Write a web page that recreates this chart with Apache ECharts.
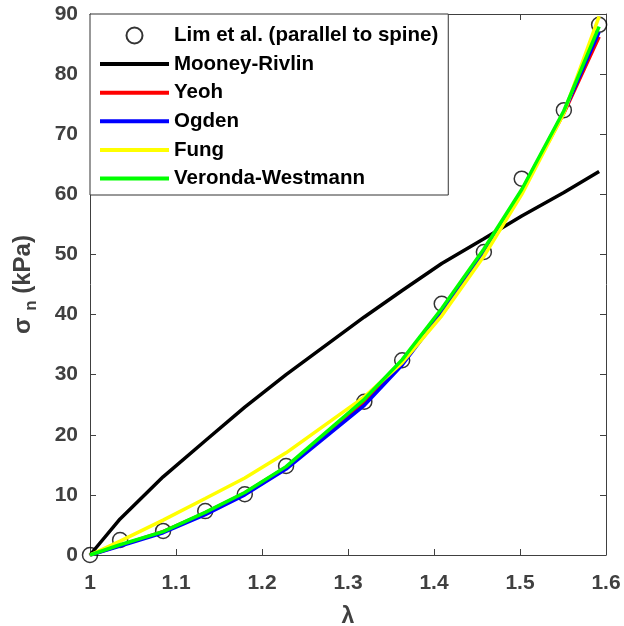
<!DOCTYPE html>
<html>
<head>
<meta charset="utf-8">
<script src="https://cdn.jsdelivr.net/npm/echarts@6/dist/echarts.min.js"></script>
<style>
  html, body { margin: 0; padding: 0; background: #fff; }
  #chart { width: 624px; height: 626px; }
</style>
</head>
<body>
<div id="chart"></div>
<script>
// Stretch ratio values where the measurements and model fits are evaluated
const lambda = [1.000, 1.035, 1.085, 1.134, 1.180, 1.228, 1.319, 1.363, 1.409, 1.458, 1.502, 1.551, 1.592];

// Measured nominal stress (kPa)
const limData = [0, 2.5, 4.0, 7.3, 10.1, 14.8, 25.5, 32.4, 41.8, 50.4, 62.6, 74.0, 88.2];

// Hyperelastic model fits (kPa)
const mooneyRivlin = [0, 6.0, 13.0, 19.0, 24.6, 30.0, 39.6, 44.0, 48.5, 52.6, 56.4, 60.3, 63.8];
const yeoh = [0, 1.6, 3.9, 7.0, 10.3, 14.6, 25.4, 32.0, 40.5, 50.5, 60.5, 73.5, 86.2];
const ogden = [0, 1.5, 3.7, 6.7, 10.0, 14.3, 24.9, 31.6, 40.3, 50.4, 60.6, 73.7, 87.0];
const fung = [0, 2.3, 5.8, 9.4, 12.8, 17.0, 26.3, 32.0, 39.8, 49.7, 60.0, 73.5, 89.6];
const verondaWestmann = [0, 1.7, 3.9, 7.1, 10.4, 14.7, 25.9, 32.5, 41.0, 50.9, 60.8, 73.9, 87.9];

const xTicks = ['1', '1.1', '1.2', '1.3', '1.4', '1.5', '1.6'];

const pairs = ys => lambda.map((x, i) => [x, ys[i]]);

const axisColor = '#404040';
const font = 'Liberation Sans, Arial, sans-serif';

const chart = echarts.init(document.getElementById('chart'), null, { renderer: 'canvas' });

function lineSeries(name, ys, color) {
  return {
    name: name,
    type: 'line',
    data: pairs(ys),
    showSymbol: false,
    symbol: 'none',
    lineStyle: { color: color, width: 3.5 },
    itemStyle: { color: color },
    animation: false
  };
}

// Legend entries for the fitted curves show only a plain line
function lineLegend(name, color) {
  return {
    name: name,
    itemStyle: { opacity: 0 },
    lineStyle: { color: color, width: 4, opacity: 1 }
  };
}

const option = {
  backgroundColor: '#fff',
  animation: false,
  grid: { left: 90, right: 18, top: 14, bottom: 71, outerBoundsMode: 'none' },
  legend: {
    left: 90,
    top: 14,
    orient: 'vertical',
    backgroundColor: '#fff',
    borderColor: '#333',
    borderWidth: 1,
    borderRadius: 0,
    padding: [11, 10, 6, 8],
    itemWidth: 69,
    itemHeight: 16,
    itemGap: 7.6,
    textStyle: { fontFamily: font, fontWeight: 'bold', fontSize: 20.5, color: '#000', padding: [0, 0, 0, 0] },
    data: [
      { name: 'Lim et al. (parallel to spine)' },
      lineLegend('Mooney-Rivlin', '#000000'),
      lineLegend('Yeoh', '#ff0000'),
      lineLegend('Ogden', '#0000ff'),
      lineLegend('Fung', '#ffff00'),
      lineLegend('Veronda-Westmann', '#00ff00')
    ]
  },
  xAxis: [{
    type: 'value',
    min: 1, max: 1.6, interval: 0.1,
    name: 'λ',
    nameLocation: 'middle',
    nameGap: 50,
    nameTextStyle: { fontFamily: font, fontWeight: 'bold', fontSize: 23, color: axisColor },
    axisLine: { show: true, lineStyle: { color: axisColor, width: 1 } },
    axisTick: { show: true, inside: true, length: 6, lineStyle: { color: axisColor } },
    splitLine: { show: false },
    axisLabel: {
      margin: 18,
      fontFamily: font, fontWeight: 'bold', fontSize: 21, color: axisColor,
      formatter: v => xTicks[Math.round((v - 1) * 10)]
    }
  }, {
    type: 'value', position: 'top',
    min: 1, max: 1.6, interval: 0.1,
    axisLine: { show: true, onZero: false, lineStyle: { color: axisColor, width: 1 } },
    axisTick: { show: true, inside: true, length: 6, lineStyle: { color: axisColor } },
    axisLabel: { show: false },
    splitLine: { show: false }
  }],
  yAxis: [{
    type: 'value',
    min: 0, max: 90, interval: 10,
    name: '{a|σ} {b|n} {a|(kPa)}',
    nameLocation: 'middle',
    nameRotate: 90,
    nameGap: 50,
    nameTextStyle: {
      fontFamily: font, fontWeight: 'bold', fontSize: 24, color: axisColor,
      rich: {
        a: { fontFamily: font, fontWeight: 'bold', fontSize: 24, color: axisColor, lineHeight: 34, verticalAlign: 'middle' },
        b: { fontFamily: font, fontWeight: 'bold', fontSize: 17, color: axisColor, lineHeight: 34, verticalAlign: 'bottom' }
      }
    },
    axisLine: { show: true, lineStyle: { color: axisColor, width: 1 } },
    axisTick: { show: true, inside: true, length: 6, lineStyle: { color: axisColor } },
    splitLine: { show: false },
    axisLabel: { margin: 12, fontFamily: font, fontWeight: 'bold', fontSize: 21, color: axisColor }
  }, {
    type: 'value', position: 'right',
    min: 0, max: 90, interval: 10,
    axisLine: { show: true, onZero: false, lineStyle: { color: axisColor, width: 1 } },
    axisTick: { show: true, inside: true, length: 6, lineStyle: { color: axisColor } },
    axisLabel: { show: false },
    splitLine: { show: false }
  }],
  series: [
    {
      name: 'Lim et al. (parallel to spine)',
      type: 'scatter',
      data: pairs(limData),
      symbol: 'circle',
      symbolSize: 15,
      itemStyle: { color: 'rgba(255,255,255,0)', borderColor: '#000', borderWidth: 1.5 },
      z: 1
    },
    lineSeries('Mooney-Rivlin', mooneyRivlin, '#000000'),
    lineSeries('Yeoh', yeoh, '#ff0000'),
    lineSeries('Ogden', ogden, '#0000ff'),
    lineSeries('Fung', fung, '#ffff00'),
    lineSeries('Veronda-Westmann', verondaWestmann, '#00ff00')
  ]
};

chart.setOption(option);
</script>
</body>
</html>
